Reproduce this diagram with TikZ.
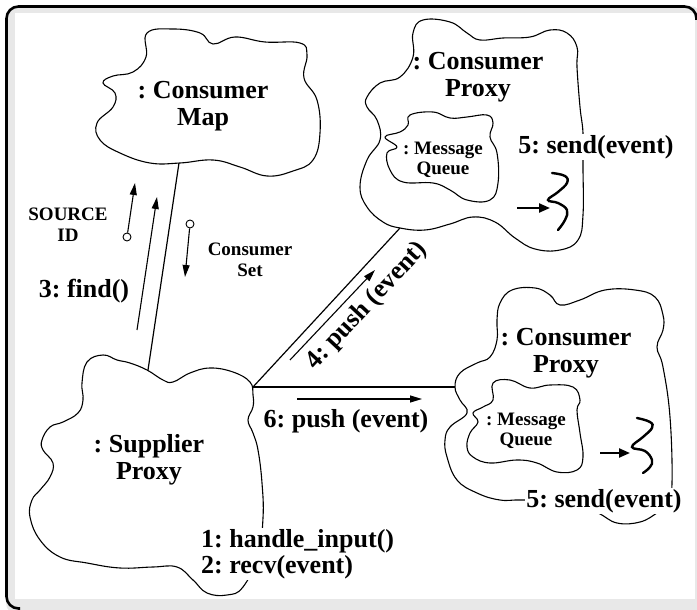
\documentclass[tikz,border=0pt]{standalone}
\usepackage{fontspec}
\setmainfont{Liberation Serif}
\usepackage{tikz}
\usetikzlibrary{arrows.meta,calc}
\frenchspacing
\tikzset{
   cloudEdge/.style={line width=1.1pt, line join=round},
   connector/.style={line width=1.2pt},
   msgEdge/.style={line width=1.1pt, -{Triangle[length=12pt,width=7pt]}},
   eventEdge/.style={line width=2.2pt, -{Triangle[length=11pt,width=9pt]}}
}

\begin{document}
\begin{tikzpicture}[x=1pt,y=-1pt]
  \tikzstyle{objName} = [align=center, inner sep=1pt, font={\fontsize{26}{27}\selectfont\bfseries}];
  \tikzstyle{queueName} = [align=center, inner sep=1pt, font={\fontsize{19}{19.5}\selectfont\bfseries}];
  \tikzstyle{msgLabel} = [align=left, inner sep=1pt, font={\fontsize{26}{26}\selectfont\bfseries}];
  \tikzstyle{onLine} = [msgLabel, fill=white];
  \tikzstyle{dataLabel} = [align=center, inner sep=1pt, font={\fontsize{19}{21}\selectfont\bfseries}];
  \tikzstyle{dataDot} = [draw, circle, fill=white, line width=0.9pt, minimum size=8pt, inner sep=0pt];
  \tikzstyle{wiggle} = [line width=2.4pt, line cap=round];

  \useasboundingbox (0,0) rectangle (697,610);
  % frame
  \fill[black!9, rounded corners=12pt] (6,6) rectangle (702,615);
  \fill[white] (15,13) rectangle (695,599);
  \draw[line width=2.6pt, rounded corners=12pt] (20,608.5) -- (6.5,608.5) -- (6.5,6.5) -- (696.5,6.5) -- (696.5,20);

  % clouds
  \draw[cloudEdge] plot[smooth cycle, tension=0.7] coordinates {
    (147,33) (173,29) (200,33) (213,44) (235,37) (265,42) (300,43) (307,55)
    (304,78) (317,100) (320,133) (313,160) (293,171) (267,176) (240,167)
    (213,160) (180,163) (150,163) (120,153) (100,140) (97,123) (113,107)
    (115,93) (103,83) (113,76) (133,72) (146,57)};
  \draw[cloudEdge] plot[smooth cycle, tension=0.7] coordinates {
    (413,33) (423,20) (450,22) (467,33) (480,40) (503,38) (530,37) (550,30)
    (567,33) (577,47) (577,67) (580,107) (583,133) (583,167) (583,215)
    (578,240) (560,250) (535,249) (515,238) (495,222) (473,217) (450,224)
    (425,230) (400,228) (383,222) (367,207) (360,187) (367,160) (380,140)
    (377,120) (367,107) (367,97) (380,83) (400,77) (413,57)};
  \draw[cloudEdge] plot[smooth cycle, tension=0.7] coordinates {
    (410,115) (433,112) (450,118) (467,117) (487,115) (493,123) (490,137)
    (497,153) (498,183) (490,200) (467,200) (450,190) (433,183) (403,182)
    (390,170) (387,153) (397,147) (385,137) (400,132) (408,125)};
  \draw[cloudEdge] plot[smooth cycle, tension=0.7] coordinates {
    (87,362) (103,355) (117,360) (130,363) (147,370) (163,380) (173,382)
    (190,373) (210,368) (233,372) (250,382) (253,395) (253,407) (248,420)
    (253,433) (258,450) (262,483) (263,518) (258,555) (243,587) (227,595)
    (207,593) (193,580) (177,567) (153,567) (120,568) (87,563) (60,557)
    (40,540) (30,517) (32,500) (40,490) (50,477) (53,463) (43,450) (42,440)
    (50,427) (63,422) (78,413) (83,400) (82,383)};
  \draw[cloudEdge] plot[smooth cycle, tension=0.7] coordinates {
    (497,320) (500,303) (512,290) (535,288) (550,295) (560,305) (580,300)
    (605,290) (635,290) (655,297) (663,315) (663,330) (657,347) (663,367)
    (670,417) (672,483) (668,505) (657,513) (640,522) (617,523) (598,513)
    (570,502) (523,500) (500,500) (477,493) (457,480) (447,457) (445,440)
    (450,427) (467,413) (460,400) (455,387) (460,373) (477,363) (490,357)
    (497,340)};
  \draw[cloudEdge] plot[smooth cycle, tension=0.7] coordinates {
    (493,383) (510,380) (530,388) (550,385) (573,387) (580,400) (577,410)
    (580,433) (583,457) (577,470) (557,472) (537,463) (517,460) (490,463)
    (473,457) (467,447) (470,433) (478,422) (473,413) (483,407) (493,400)};

  % attachment points on the clouds
  \coordinate (mapFoot) at (179,163);
  \coordinate (supTop) at (148,370);
  \coordinate (supEast) at (253,387);
  \coordinate (cpOneFoot) at (400,228);
  \coordinate (cpTwoWest) at (455,387);

  % object names
  \node[objName, name=map] at (203,106) {: Consumer\\Map};
  \node[objName, name=cpOne] at (478,77) {: Consumer\\Proxy};
  \node[queueName, name=mqOne] at (443,160) {: Message\\Queue};
  \node[objName, name=sup] at (149,460) {: Supplier\\Proxy};
  \node[objName, name=cpTwo] at (566,353) {: Consumer\\Proxy};
  \node[queueName, name=mqTwo] at (526,431) {: Message\\Queue};

  % links
  \draw ($(mapFoot)$) edge[connector] ($(supTop)$);
  \draw ($(supEast)$) edge[connector] ($(cpOneFoot)$);
  \draw ($(supEast)$) edge[connector] ($(cpTwoWest)$);

  % find() and its data
  \coordinate (findFrom) at (137,330);
  \coordinate (findTo) at (157,197);
  \draw ($(findFrom)$) edge[msgEdge] ($(findTo)$);
  \node[msgLabel, name=findLbl] at (84,291) {3: find()};
  \node[dataDot, name=srcDot] at (127,237) {};
  \coordinate (srcTo) at (135,183);
  \draw (srcDot) edge[msgEdge] ($(srcTo)$);
  \node[dataLabel, name=srcLbl] at (68,225) {SOURCE\\ID};
  \node[dataDot, name=setDot] at (190,224) {};
  \coordinate (setTo) at (185,277);
  \draw (setDot) edge[msgEdge] ($(setTo)$);
  \node[dataLabel, name=setLbl] at (250,260) {Consumer\\Set};

  % push messages
  \coordinate (pushFourFrom) at (290,360);
  \coordinate (pushFourTo) at (375,270);
  \draw ($(pushFourFrom)$) edge[msgEdge] ($(pushFourTo)$);
  \node[msgLabel, name=pushFourLbl, rotate=47] at (367,306) {4: push (event)};
  \coordinate (pushSixFrom) at (297,399);
  \coordinate (pushSixTo) at (422,399);
  \draw ($(pushSixFrom)$) edge[msgEdge] ($(pushSixTo)$);
  \node[msgLabel, name=pushSixLbl] at (346,421) {6: push (event)};

  % supplier input
  \node[onLine, name=inputLbl, anchor=west] at (200,554) {1: handle\_input()\\2: recv(event)};

  % send(event) in each consumer proxy
  \node[onLine, name=sendOneLbl] at (596,147) {5: send(event)};
  \coordinate (evOneFrom) at (517,208);
  \coordinate (evOneTo) at (550,208);
  \draw ($(evOneFrom)$) edge[eventEdge] ($(evOneTo)$);
  \draw[wiggle] plot[smooth, tension=0.7] coordinates {
    (552,173) (565,176) (567,183) (558,192) (548,200) (558,203) (567,210) (565,220) (558,230)};
  \node[onLine, name=sendTwoLbl] at (604,501) {5: send(event)};
  \coordinate (evTwoFrom) at (600,453);
  \coordinate (evTwoTo) at (630,453);
  \draw ($(evTwoFrom)$) edge[eventEdge] ($(evTwoTo)$);
  \draw[wiggle] plot[smooth, tension=0.7] coordinates {
    (637,418) (650,422) (652,428) (643,437) (632,447) (645,451) (652,460) (650,467) (643,473)};
\end{tikzpicture}
\end{document}
